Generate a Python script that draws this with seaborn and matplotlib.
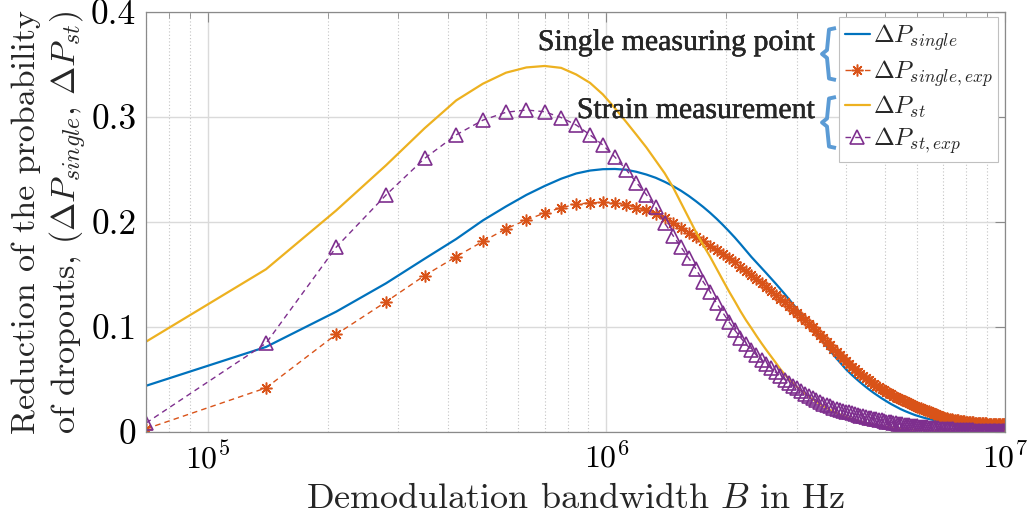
import numpy as np
import pandas as pd
import matplotlib
matplotlib.use("Agg")
import matplotlib.pyplot as plt
import matplotlib.ticker as mticker
import matplotlib.patheffects as pe
from matplotlib.lines import Line2D
from matplotlib.font_manager import FontProperties
import seaborn as sns

# demodulation bandwidth grid, 70 kHz steps up to 10 MHz
bandwidth = np.arange(1, 144) * 70e3

# reduction of the probability of dropouts
dp_single = [
    0.0440, 0.0810, 0.1146, 0.1416, 0.1650, 0.1838, 0.2015, 0.2148, 0.2258, 0.2343,
    0.2412, 0.2462, 0.2490, 0.2503, 0.2505, 0.2498, 0.2478, 0.2452, 0.2421, 0.2383,
    0.2342, 0.2297, 0.2248, 0.2196, 0.2143, 0.2088, 0.2031, 0.1972, 0.1912, 0.1852,
    0.1790, 0.1728, 0.1668, 0.1615, 0.1563, 0.1512, 0.1462, 0.1413, 0.1364, 0.1315,
    0.1266, 0.1218, 0.1170, 0.1122, 0.1076, 0.1030, 0.0985, 0.0940, 0.0896, 0.0855,
    0.0814, 0.0775, 0.0737, 0.0700, 0.0665, 0.0631, 0.0598, 0.0570, 0.0543, 0.0518,
    0.0494, 0.0471, 0.0449, 0.0428, 0.0408, 0.0389, 0.0371, 0.0354, 0.0338, 0.0322,
    0.0307, 0.0293, 0.0279, 0.0266, 0.0254, 0.0242, 0.0231, 0.0220, 0.0210, 0.0201,
    0.0192, 0.0184, 0.0176, 0.0168, 0.0161, 0.0155, 0.0149, 0.0143, 0.0138, 0.0133,
    0.0128, 0.0124, 0.0120, 0.0116, 0.0112, 0.0109, 0.0106, 0.0103, 0.0100, 0.0097,
    0.0095, 0.0092, 0.0090, 0.0087, 0.0085, 0.0083, 0.0081, 0.0079, 0.0077, 0.0075,
    0.0073, 0.0071, 0.0070, 0.0068, 0.0067, 0.0065, 0.0064, 0.0063, 0.0062, 0.0060,
    0.0059, 0.0058, 0.0057, 0.0056, 0.0056, 0.0055, 0.0054, 0.0053, 0.0053, 0.0052,
    0.0051, 0.0051, 0.0050, 0.0050, 0.0049, 0.0049, 0.0048, 0.0048, 0.0047, 0.0047,
    0.0047, 0.0046, 0.0046,
]
dp_single_exp = [
    0.0030, 0.0420, 0.0930, 0.1240, 0.1490, 0.1670, 0.1815, 0.1935, 0.2020, 0.2085,
    0.2137, 0.2168, 0.2184, 0.2186, 0.2182, 0.2165, 0.2138, 0.2112, 0.2078, 0.2035,
    0.1990, 0.1945, 0.1900, 0.1855, 0.1815, 0.1775, 0.1735, 0.1695, 0.1655, 0.1615,
    0.1575, 0.1535, 0.1495, 0.1455, 0.1415, 0.1378, 0.1340, 0.1305, 0.1270, 0.1235,
    0.1200, 0.1165, 0.1130, 0.1095, 0.1062, 0.1030, 0.0998, 0.0962, 0.0927, 0.0893,
    0.0859, 0.0826, 0.0794, 0.0762, 0.0731, 0.0702, 0.0674, 0.0648, 0.0622, 0.0598,
    0.0575, 0.0553, 0.0532, 0.0512, 0.0493, 0.0475, 0.0458, 0.0442, 0.0427, 0.0412,
    0.0398, 0.0384, 0.0371, 0.0358, 0.0346, 0.0334, 0.0323, 0.0312, 0.0301, 0.0291,
    0.0282, 0.0273, 0.0264, 0.0256, 0.0248, 0.0240, 0.0232, 0.0224, 0.0217, 0.0210,
    0.0203, 0.0196, 0.0189, 0.0182, 0.0175, 0.0168, 0.0161, 0.0154, 0.0147, 0.0140,
    0.0136, 0.0132, 0.0128, 0.0125, 0.0122, 0.0119, 0.0116, 0.0113, 0.0110, 0.0108,
    0.0106, 0.0104, 0.0102, 0.0100, 0.0098, 0.0096, 0.0094, 0.0093, 0.0091, 0.0090,
    0.0088, 0.0087, 0.0086, 0.0085, 0.0084, 0.0083, 0.0082, 0.0081, 0.0080, 0.0079,
    0.0078, 0.0078, 0.0077, 0.0077, 0.0076, 0.0076, 0.0075, 0.0075, 0.0074, 0.0074,
    0.0073, 0.0073, 0.0072,
]
dp_st = [
    0.0860, 0.1550, 0.2110, 0.2540, 0.2893, 0.3158, 0.3317, 0.3422, 0.3472, 0.3486,
    0.3468, 0.3405, 0.3325, 0.3215, 0.3085, 0.2955, 0.2830, 0.2710, 0.2585, 0.2465,
    0.2330, 0.2180, 0.2035, 0.1900, 0.1780, 0.1670, 0.1555, 0.1445, 0.1340, 0.1245,
    0.1150, 0.1065, 0.0990, 0.0915, 0.0845, 0.0780, 0.0720, 0.0660, 0.0600, 0.0550,
    0.0505, 0.0465, 0.0428, 0.0395, 0.0365, 0.0337, 0.0311, 0.0288, 0.0266, 0.0246,
    0.0228, 0.0211, 0.0195, 0.0181, 0.0168, 0.0156, 0.0145, 0.0134, 0.0125, 0.0116,
    0.0108, 0.0100, 0.0093, 0.0087, 0.0081, 0.0075, 0.0070, 0.0065, 0.0061, 0.0057,
    0.0053, 0.0049, 0.0046, 0.0043, 0.0040, 0.0037, 0.0035, 0.0032, 0.0030, 0.0028,
    0.0026, 0.0025, 0.0023, 0.0022, 0.0020, 0.0019, 0.0018, 0.0017, 0.0016, 0.0015,
    0.0014, 0.0013, 0.0012, 0.0012, 0.0011, 0.0010, 0.0010, 0.0009, 0.0009, 0.0008,
    0.0008, 0.0008, 0.0007, 0.0007, 0.0007, 0.0006, 0.0006, 0.0006, 0.0006, 0.0005,
    0.0005, 0.0005, 0.0005, 0.0005, 0.0004, 0.0004, 0.0004, 0.0004, 0.0004, 0.0004,
    0.0003, 0.0003, 0.0003, 0.0003, 0.0003, 0.0003, 0.0003, 0.0003, 0.0003, 0.0003,
    0.0003, 0.0003, 0.0003, 0.0002, 0.0002, 0.0002, 0.0002, 0.0002, 0.0002, 0.0002,
    0.0002, 0.0002, 0.0002,
]
dp_st_exp = [
    0.0085, 0.0845, 0.1760, 0.2257, 0.2606, 0.2830, 0.2970, 0.3045, 0.3067, 0.3050,
    0.2995, 0.2924, 0.2830, 0.2733, 0.2620, 0.2500, 0.2375, 0.2260, 0.2140, 0.1990,
    0.1870, 0.1760, 0.1654, 0.1550, 0.1430, 0.1336, 0.1225, 0.1135, 0.1050, 0.0970,
    0.0900, 0.0835, 0.0785, 0.0730, 0.0685, 0.0645, 0.0605, 0.0568, 0.0533, 0.0500,
    0.0470, 0.0442, 0.0415, 0.0390, 0.0366, 0.0344, 0.0323, 0.0304, 0.0286, 0.0269,
    0.0256, 0.0244, 0.0233, 0.0222, 0.0212, 0.0203, 0.0194, 0.0186, 0.0178, 0.0170,
    0.0163, 0.0156, 0.0149, 0.0143, 0.0137, 0.0131, 0.0125, 0.0120, 0.0115, 0.0110,
    0.0105, 0.0100, 0.0096, 0.0092, 0.0088, 0.0084, 0.0080, 0.0076, 0.0073, 0.0070,
    0.0067, 0.0064, 0.0061, 0.0058, 0.0056, 0.0053, 0.0051, 0.0049, 0.0047, 0.0045,
    0.0043, 0.0041, 0.0040, 0.0038, 0.0037, 0.0035, 0.0034, 0.0032, 0.0031, 0.0030,
    0.0029, 0.0028, 0.0027, 0.0026, 0.0025, 0.0024, 0.0023, 0.0022, 0.0021, 0.0021,
    0.0020, 0.0019, 0.0018, 0.0018, 0.0017, 0.0016, 0.0016, 0.0015, 0.0015, 0.0014,
    0.0013, 0.0013, 0.0012, 0.0012, 0.0011, 0.0011, 0.0010, 0.0010, 0.0009, 0.0009,
    0.0009, 0.0008, 0.0008, 0.0008, 0.0007, 0.0007, 0.0007, 0.0006, 0.0006, 0.0006,
    0.0005, 0.0005, 0.0005,
]

series_labels = [r"$\Delta P_{single}$", r"$\Delta P_{single,exp}$",
                 r"$\Delta P_{st}$", r"$\Delta P_{st,exp}$"]
group_labels = ["Single measuring point", "Strain measurement"]
xtick_values = [1e5, 1e6, 1e7]
ytick_values = [0, 0.1, 0.2, 0.3, 0.4]
ytick_labels = ["0", "0.1", "0.2", "0.3", "0.4"]

df = pd.DataFrame({"B": bandwidth, "single": dp_single, "single_exp": dp_single_exp,
                   "st": dp_st, "st_exp": dp_st_exp})

sns.set_theme(style="white")
plt.rcParams["font.family"] = ["cmr10", "DejaVu Serif"]
plt.rcParams["font.serif"] = ["Liberation Serif", "DejaVu Serif"]
plt.rcParams["mathtext.fontset"] = "cm"
plt.rcParams["axes.formatter.use_mathtext"] = True
plt.rcParams["axes.unicode_minus"] = False

blue, orange, yellow, purple = "#0072BD", "#D95319", "#EDB120", "#7E2F8E"
axis_grey = "#8a8a8a"

W, H = 1030, 527
fig = plt.figure(figsize=(W / 100, H / 100), dpi=100)
ax = fig.add_axes([146 / W, 95 / H, 859 / W, 420 / H])

sns.lineplot(data=df, x="B", y="single", ax=ax, color=blue, lw=1.6, errorbar=None)
sns.lineplot(data=df, x="B", y="single_exp", ax=ax, color=orange, lw=1.0,
             linestyle=(0, (4, 3)), marker=(8, 2, 0), ms=8.5, mec=orange, mew=1.1,
             errorbar=None)
sns.lineplot(data=df, x="B", y="st", ax=ax, color=yellow, lw=1.6, errorbar=None)
sns.lineplot(data=df, x="B", y="st_exp", ax=ax, color=purple, lw=1.0,
             linestyle=(0, (4, 3)), marker="^", ms=9.5, mfc="none", mec=purple,
             mew=1.2, errorbar=None)

ax.set_xscale("log")
ax.set_xlim(7e4, 1e7)
ax.set_ylim(0, 0.4)
ax.set_xticks(xtick_values)
ax.xaxis.set_minor_locator(mticker.LogLocator(base=10, subs=np.arange(2, 10)))
ax.xaxis.set_minor_formatter(mticker.NullFormatter())
ax.set_yticks(ytick_values, ytick_labels)

ax.tick_params(which="both", direction="in", top=True, right=True,
               color=axis_grey, labelcolor="black", pad=7)
ax.tick_params(axis="x", labelsize=23)
ax.tick_params(axis="y", labelsize=25.5)
ax.tick_params(which="major", length=7, width=0.8)
ax.tick_params(which="minor", length=4, width=0.6)
for sp in ax.spines.values():
    sp.set_color(axis_grey)
    sp.set_linewidth(0.9)

ax.grid(which="major", color="#dadada", lw=1.0)
ax.grid(which="minor", axis="x", color="#c4c4c4", lw=0.8, ls=(0, (1, 2)))
ax.set_axisbelow(True)

ax.set_xlabel(r"Demodulation bandwidth $B$ in Hz", fontsize=26, labelpad=7)
ax.set_ylabel("Reduction of the probability\n"
              r"of dropouts, $(\Delta P_{single},\,\Delta P_{st})$",
              fontsize=24.5, linespacing=1.2)
ax.yaxis.set_label_coords(-0.112, 0.5)
ax.yaxis.label.set_verticalalignment("center")

leg = ax.legend(handles=ax.lines[:4], labels=series_labels, loc="upper right",
                bbox_to_anchor=(0.9919, 0.988), borderaxespad=0, fontsize=18,
                handlelength=1.0, handletextpad=0.12, labelspacing=0.2,
                borderpad=0.22, frameon=True, fancybox=False, framealpha=1,
                edgecolor="#c0c0c0")
leg.get_frame().set_linewidth(0.8)


def fx(px):
    return px / W


def fy(py):
    return 1 - py / H


# group labels with braces next to the legend
brace_color = "#5b9bd5"
note_font = FontProperties(family="serif", size=21.5)
for label, top, bottom, base in [(group_labels[0], 28, 80, 50),
                                  (group_labels[1], 97, 148, 118)]:
    mid = (top + bottom) / 2
    xs = [836, 829, 827, 822, 827, 829, 836]
    ys = [top, top + 1.5, mid - 4, mid, mid + 4, bottom - 1.5, bottom]
    fig.add_artist(Line2D([fx(v) for v in xs], [fy(v) for v in ys],
                          transform=fig.transFigure, color=brace_color, lw=2.8,
                          solid_joinstyle="round", solid_capstyle="butt"))
    fig.text(fx(815), fy(base), label, ha="right", va="baseline",
             fontproperties=note_font,
             path_effects=[pe.withStroke(linewidth=0.3, foreground="black")])

fig.savefig("out.png", dpi=100)
